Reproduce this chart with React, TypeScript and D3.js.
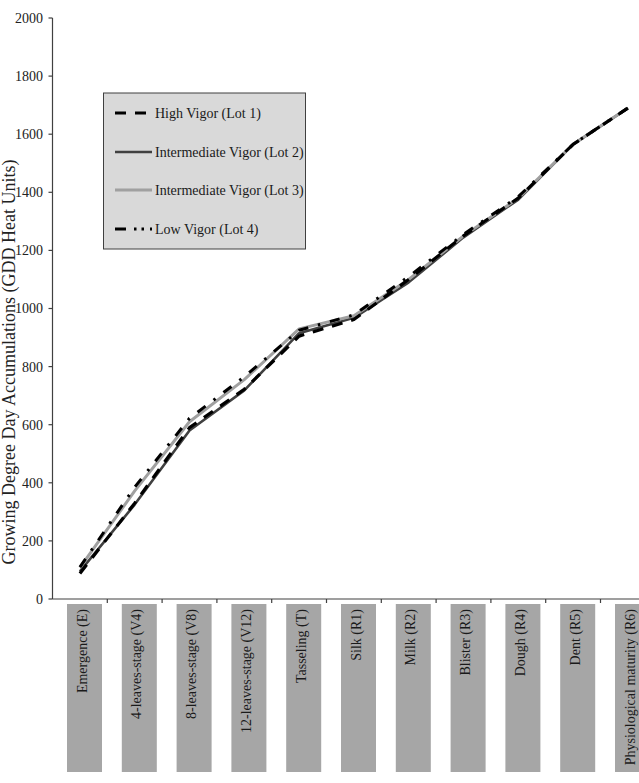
import React from "react";
import * as d3 from "d3";

const categories = [
  "Emergence (E)",
  "4-leaves-stage (V4)",
  "8-leaves-stage (V8)",
  "12-leaves-stage (V12)",
  "Tasseling (T)",
  "Silk (R1)",
  "Milk (R2)",
  "Blister (R3)",
  "Dough (R4)",
  "Dent (R5)",
  "Physiological maturity (R6)",
];

const lot1 = [88, 330, 590, 722, 905, 962, 1100, 1250, 1380, 1565, 1690];
const lot2 = [95, 325, 580, 718, 915, 968, 1090, 1245, 1375, 1565, 1690];
const lot3 = [108, 372, 610, 755, 930, 975, 1100, 1250, 1380, 1565, 1690];
const lot4 = [110, 385, 622, 765, 925, 978, 1110, 1255, 1385, 1565, 1690];

const seriesNames = [
  "High Vigor (Lot 1)",
  "Intermediate Vigor (Lot 2)",
  "Intermediate Vigor (Lot 3)",
  "Low Vigor (Lot 4)",
];

const yTicks = [0, 200, 400, 600, 800, 1000, 1200, 1400, 1600, 1800, 2000];

const FONT = "'Liberation Serif', 'Times New Roman', serif";

export default function App() {
  const x0 = 52.5;
  const bandW = 54.8;
  const x = d3
    .scaleBand<string>()
    .domain(categories)
    .range([x0, x0 + bandW * categories.length])
    .padding(0);
  const y = d3.scaleLinear().domain([0, 2000]).range([599, 18]);

  const styles = [
    { color: "#000000", width: 3.2, dash: "11 9" },
    { color: "#404040", width: 2.6, dash: "" },
    { color: "#a0a0a0", width: 3, dash: "" },
    { color: "#000000", width: 3, dash: "10 10 2.5 10" },
  ];
  const data = [lot1, lot2, lot3, lot4];
  const drawOrder = [1, 2, 0, 3];

  const line = d3
    .line<number>()
    .x((_, i) => (x(categories[i]) as number) + x.bandwidth() / 2)
    .y((d) => y(d))
    .curve(d3.curveLinear);

  const axisColor = "#404040";
  const bandEdges = categories.map((c) => (x(c) as number) + x.bandwidth());

  const legendY = [113, 152, 190, 229];

  return (
    <svg
      width={639}
      height={783}
      style={{ position: "absolute", left: 0, top: 0, background: "#fff" }}
      fontFamily={FONT}
    >
      {/* y axis */}
      <line x1={x0} x2={x0} y1={y(2000)} y2={y(0)} stroke={axisColor} strokeWidth={1.2} />
      {yTicks.map((t) => (
        <g key={t}>
          <line x1={x0 - 4} x2={x0} y1={y(t)} y2={y(t)} stroke={axisColor} strokeWidth={1.2} />
          <text x={43} y={y(t)} dy="0.35em" textAnchor="end" fontSize={14} fill="#222">
            {t}
          </text>
        </g>
      ))}
      <text
        transform={`translate(15, 362) rotate(-90)`}
        textAnchor="middle"
        fontSize={18}
        fill="#222"
      >
        Growing Degree Day Accumulations (GDD Heat Units)
      </text>

      {/* x axis */}
      <line x1={x0} x2={639} y1={y(0)} y2={y(0)} stroke={axisColor} strokeWidth={1.2} />
      {bandEdges.map((bx, i) => (
        <line key={i} x1={bx} x2={bx} y1={y(0)} y2={y(0) + 4} stroke={axisColor} strokeWidth={1.2} />
      ))}
      {categories.map((c) => {
        const bx = (x(c) as number) + 14.5;
        return (
          <g key={c}>
            <rect x={bx} y={604} width={35} height={168} fill="#a6a6a6" />
            <text
              transform={`translate(${bx + 19.5}, 609) rotate(-90)`}
              textAnchor="end"
              fontSize={14}
              fill="#1a1a1a"
            >
              {c}
            </text>
          </g>
        );
      })}

      {/* lines */}
      {drawOrder.map((k) => (
        <path
          key={k}
          d={line(data[k]) || ""}
          fill="none"
          stroke={styles[k].color}
          strokeWidth={styles[k].width}
          strokeDasharray={styles[k].dash || undefined}
          strokeLinejoin="round"
        />
      ))}

      {/* legend */}
      <rect x={103.5} y={93} width={202} height={156} fill="#d9d9d9" stroke={axisColor} strokeWidth={1} />
      {seriesNames.map((n, k) => (
        <g key={n}>
          <line
            x1={115}
            x2={152}
            y1={legendY[k]}
            y2={legendY[k]}
            stroke={styles[k].color}
            strokeWidth={styles[k].width}
            strokeDasharray={k === 3 ? "11 8 2.5 5 2.5 6" : styles[k].dash || undefined}
          />
          <text x={155} y={legendY[k]} dy="0.35em" fontSize={14} fill="#1a1a1a">
            {n}
          </text>
        </g>
      ))}
    </svg>
  );
}
